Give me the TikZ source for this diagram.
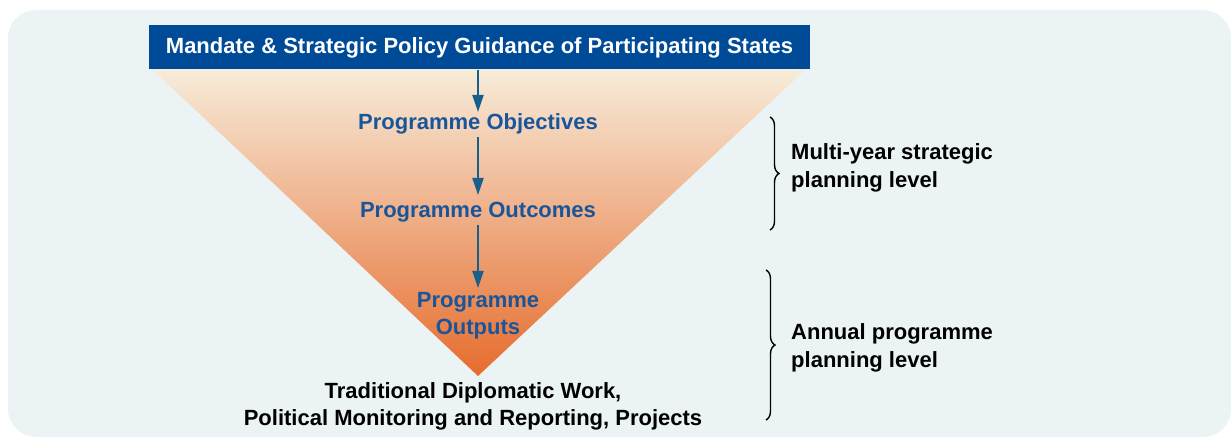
\documentclass[tikz,border=0pt]{standalone}
\usepackage{fontspec}
\setmainfont{Liberation Sans}
\usetikzlibrary{arrows.meta,decorations.pathreplacing}
\definecolor{bgcol}{RGB}{235,243,245}
\definecolor{banner}{RGB}{0,75,152}
\definecolor{lblue}{RGB}{25,85,155}
\definecolor{arrcol}{RGB}{25,95,140}
\definecolor{ctop}{RGB}{247,236,218}
\definecolor{cmid}{RGB}{242,205,165}
\definecolor{cbot}{RGB}{230,108,45}
\tikzset{
  bluelbl/.style={text=lblue, font=\fontsize{22}{27}\selectfont\bfseries, align=center, inner sep=1pt},
  blklbl/.style={text=black, font=\fontsize{22}{27.5}\selectfont\bfseries, align=left, inner sep=1pt},
  flow/.style={draw=arrcol, line width=2pt, -{Triangle[length=17pt,width=11pt]}},
  bracestyle/.style={draw=black, line width=1.4pt, decorate, decoration={brace, amplitude=9pt}}
}
\begin{document}
\begin{tikzpicture}[x=1pt,y=-1pt]
\useasboundingbox (0,0) rectangle (1231,438);
\fill[bgcol, rounded corners=28] (8,10) rectangle (1231,437);
% triangle with gradient
\shade[top color=ctop, middle color=cmid, bottom color=cbot] (152,69) -- (806,69) -- (478,376) -- cycle;
% banner
\node[fill=banner, text=white, font=\fontsize{22}{26}\selectfont\bfseries, minimum width=661pt, minimum height=44pt, inner sep=0pt] (mandate) at (479.5,47.5) {Mandate \& Strategic Policy Guidance of Participating States};
\node[bluelbl] (obj) at (478,124) {Programme Objectives};
\node[bluelbl] (outc) at (478,212) {Programme Outcomes};
\node[bluelbl] (outp) at (478,315.5) {Programme\\Outputs};
\node[blklbl, align=center] (trad) at (473,406.5) {Traditional Diplomatic Work,\\Political Monitoring and Reporting, Projects};
\draw[flow] (mandate.south -| obj) -- (478,112);
\draw[flow] (obj.south) ++(0,2) -- (478,195);
\draw[flow] (outc.south) ++(0,2) -- (478,288);
% braces
\coordinate (b1t) at (770,117);
\coordinate (b1b) at (770,230);
\coordinate (b2t) at (766,270);
\coordinate (b2b) at (766,420);
\draw[bracestyle] (b1t) -- (b1b);
\draw[bracestyle] (b2t) -- (b2b);
\node[blklbl, anchor=west] (multi) at (790,168) {Multi-year strategic\\planning level};
\node[blklbl, anchor=west] (annual) at (790,348) {Annual programme\\planning level};
\end{tikzpicture}
\end{document}
